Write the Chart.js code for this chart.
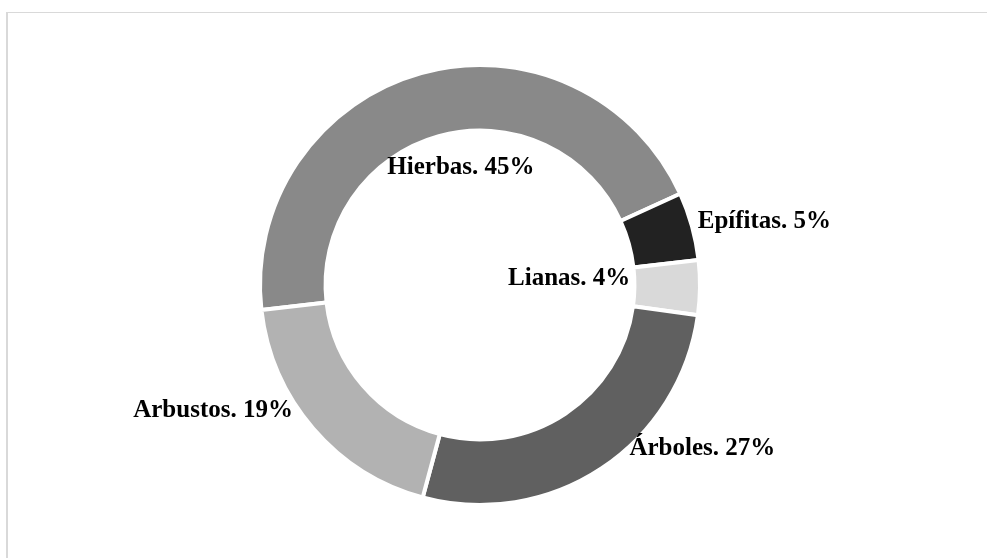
<!DOCTYPE html>
<html lang="es">
<head>
<meta charset="utf-8">
<title>Formas de vida</title>
<script src="https://cdn.jsdelivr.net/npm/chart.js@4.4.1/dist/chart.umd.min.js"></script>
<style>
  html, body { margin: 0; padding: 0; background: #ffffff; overflow: hidden; }
  #wrap { position: relative; width: 987px; height: 558px; }
  #frame {
    position: absolute; left: 6px; top: 12px; width: 1100px; height: 700px;
    border-top: 1px solid #d9d9d9; border-left: 2px solid #d9d9d9;
  }
  canvas { position: absolute; left: 0; top: 0; }
</style>
</head>
<body>
<div id="wrap">
  <div id="frame"></div>
  <canvas id="chart" width="987" height="558"></canvas>
</div>
<script>
// Life-form categories and their share (%)
const categories = ['Hierbas', 'Epífitas', 'Lianas', 'Árboles', 'Arbustos'];
const shares = [45, 5, 4, 27, 19];
const sliceColors = ['#898989', '#222222', '#d9d9d9', '#606060', '#b2b2b2'];

// Label nudges (px) from each slice's centre point
const labelNudge = [[31, 69], [104, -7], [-98, -2], [119, 14], [-125, 10]];

const sliceLabels = {
  id: 'sliceLabels',
  afterDatasetsDraw(chart) {
    const ctx = chart.ctx;
    const meta = chart.getDatasetMeta(0);
    ctx.save();
    ctx.font = 'bold 25px "Liberation Serif", "Times New Roman", serif';
    ctx.fillStyle = '#000000';
    ctx.textAlign = 'center';
    ctx.textBaseline = 'alphabetic';
    meta.data.forEach((arc, i) => {
      const p = arc.getCenterPoint();
      const [dx, dy] = labelNudge[i];
      const text = categories[i] + '. ' + shares[i] + '%';
      ctx.fillText(text, p.x + dx, p.y + dy);
    });
    ctx.restore();
  }
};

new Chart(document.getElementById('chart'), {
  type: 'doughnut',
  data: {
    labels: categories,
    datasets: [{
      data: shares,
      backgroundColor: sliceColors,
      borderColor: '#ffffff',
      borderWidth: 4,
      hoverOffset: 0
    }]
  },
  options: {
    responsive: false,
    animation: false,
    rotation: -96.5,
    cutout: '70.2%',
    layout: { padding: { top: 63, bottom: 51, left: 0, right: 27 } },
    plugins: {
      legend: { display: false },
      tooltip: { enabled: false },
      title: { display: false }
    }
  },
  plugins: [sliceLabels]
});
</script>
</body>
</html>
